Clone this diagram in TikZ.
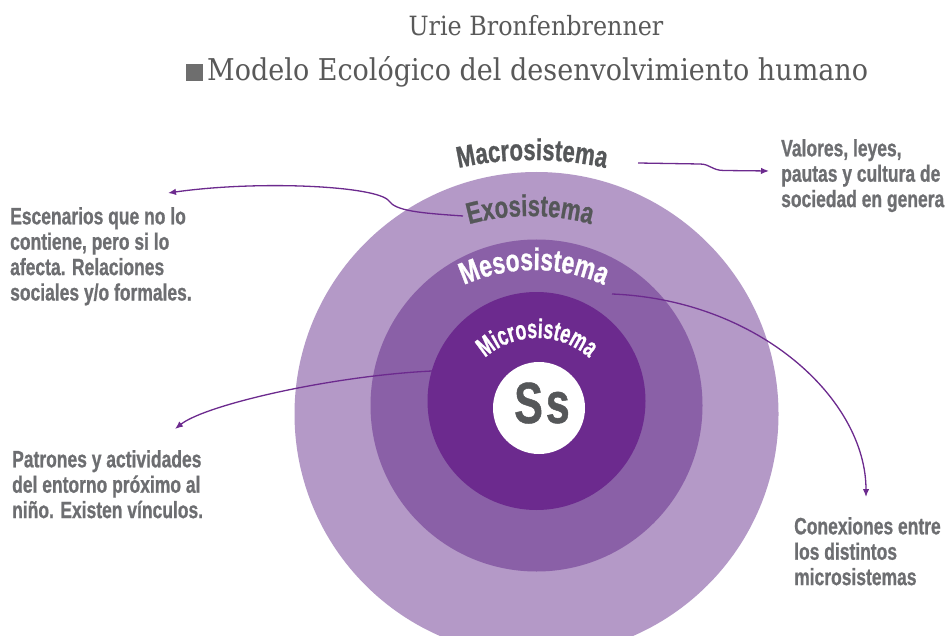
\documentclass[tikz,border=0pt]{standalone}
\usepackage{fontspec}
\usetikzlibrary{arrows.meta,decorations.text}
\newfontfamily\condfont[FakeStretch=0.74,FakeBold=0.8]{Liberation Sans}
\newfontfamily\narrowfont[FakeStretch=0.66,FakeBold=0.8]{Liberation Sans}
\newfontfamily\titlefont[FakeStretch=0.9]{DejaVu Serif}
\definecolor{outerc}{HTML}{B499C7}
\definecolor{mesoc}{HTML}{8A60A7}
\definecolor{microc}{HTML}{6C2A8E}
\definecolor{arrowc}{HTML}{6C2A8E}
\definecolor{descc}{HTML}{6D6E71}
\definecolor{labc}{HTML}{555759}
\definecolor{titc}{HTML}{595959}
\definecolor{bulletc}{HTML}{6E6E6E}
\begin{document}
\begin{tikzpicture}[x=1pt,y=1pt,
  desctext/.style={anchor=north west, align=left, inner sep=0pt, text=descc,
    font=\condfont\bfseries\fontsize{23.6}{25.4}\selectfont},
  conn/.style={draw=arrowc, line width=1.3pt, -{Latex[length=8pt,width=6.5pt]}},
  titletext/.style={inner sep=0pt, text=titc}]
\fill[white] (0,0) rectangle (947,-636);
\useasboundingbox (0,0) rectangle (947,-636);
\begin{scope}
\clip (0,0) rectangle (947,-636);
\fill[outerc] (536.5,-414) circle (242);
\fill[mesoc] (536.5,-405.5) circle (166);
\fill[microc] (536.5,-401) circle (109);
\end{scope}
\node[circle, fill=white, minimum size=92pt, inner sep=0pt] (self) at (539,-408) {};
\node[anchor=base, inner sep=0pt, text=labc, font=\condfont\bfseries\fontsize{58}{60}\selectfont] (ss) at (542,-423) {S\kern3pt s};

% curved labels
\path[decorate, decoration={text along path, text align=center,
  text={|\condfont\bfseries\fontsize{30}{32}\selectfont\color{labc}|Macrosistema}}]
  (362,-205.55) arc[start angle=120, end angle=60, radius=340];
\path[decorate, decoration={text along path, text align=center,
  text={|\condfont\bfseries\fontsize{30}{32}\selectfont\color{labc}|Exosistema}}]
  (398.1,-257.6) arc[start angle=125, end angle=55, radius=230];
\path[decorate, decoration={text along path, text align=center,
  text={|\condfont\bfseries\fontsize{31}{33}\selectfont\color{white}|Mesosistema}}]
  (424.7,-309.8) arc[start angle=130, end angle=50, radius=170];
\path[decorate, decoration={text along path, text align=center,
  text={|\narrowfont\bfseries\fontsize{27}{29}\selectfont\color{white}|Microsistema}}]
  (469.5,-377) arc[start angle=150, end angle=30, radius=78];

% titles
\node[titletext, anchor=base, font=\titlefont\fontsize{26.5}{30}\selectfont] (author) at (536,-36) {Urie Bronfenbrenner};
\node[fill=bulletc, minimum size=17pt, inner sep=0pt] (bullet) at (194.5,-72.5) {};
\node[titletext, anchor=base west, font=\titlefont\fontsize{30}{34}\selectfont] (title) at (207,-81) {Modelo Ecológico del desenvolvimiento humano};

% descriptions
\node[desctext] (exotxt) at (10,-207) {Escenarios que no lo\\contiene, pero si lo\\afecta. Relaciones\\sociales y/o formales.};
\node[desctext] (macrotxt) at (781,-139) {Valores, leyes,\\pautas y cultura de\\sociedad en genera};
\node[desctext] (microtxt) at (12,-450) {Patrones y actividades\\del entorno próximo al\\niño. Existen vínculos.};
\node[desctext] (mesotxt) at (794,-517) {Conexiones entre\\los distintos\\microsistemas};

% connectors
\coordinate (macroS) at (638,-163);
\coordinate (macroE) at (769,-171);
\coordinate (exoS) at (463,-216);
\coordinate (exoE) at (168,-193);
\coordinate (mesoS) at (612,-294);
\coordinate (mesoE) at (866,-497);
\coordinate (microS) at (432,-371);
\coordinate (microE) at (175,-429);
\draw[conn] (macroS) -- (700,-164) .. controls (710,-164) and (712,-170.5) .. (724,-170.5) -- (macroE);
\draw[conn] (exoS) .. controls (420,-213) and (396,-211) .. (389,-201) .. controls (378,-186) and (260,-180) .. (exoE);
\draw[conn] (mesoS) .. controls (760,-300) and (866,-400) .. (mesoE);
\draw[conn] (microS) .. controls (330,-376) and (205,-405) .. (microE);
\end{tikzpicture}
\end{document}
